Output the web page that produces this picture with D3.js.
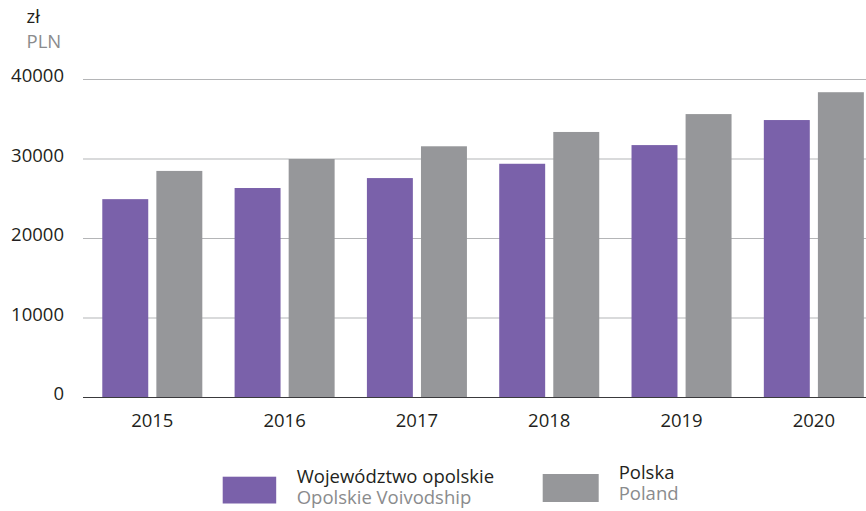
<!DOCTYPE html>
<html>
<head>
<meta charset="utf-8">
<script src="https://cdn.jsdelivr.net/npm/d3@7"></script>
<style>
  body { margin: 0; background: #fff; }
  text { font-family: "Open Sans", sans-serif; }
</style>
</head>
<body>
<div id="chart"></div>
<script>
// data
var years = ["2015", "2016", "2017", "2018", "2019", "2020"];
var opolskie = [24950, 26350, 27600, 29400, 31750, 34900];
var polska = [28500, 30000, 31600, 33400, 35650, 38400];
var yTicks = [0, 10000, 20000, 30000, 40000];
var seriesKeys = ["opolskie", "polska"];
var seriesPl = ["Województwo opolskie", "Polska"];
var seriesEn = ["Opolskie Voivodship", "Poland"];
var colours = ["#7a61aa", "#96979a"];

var width = 866, height = 511;
var plotLeft = 83, plotRight = 866, plotTop = 79.5, plotBottom = 397.5;

var svg = d3.select("#chart").append("svg")
    .attr("width", width)
    .attr("height", height);

var x = d3.scaleBand()
    .domain(years)
    .range([plotLeft, plotRight])
    .paddingInner(0.244)
    .paddingOuter(0.081)
    .align(0.9);

var xs = d3.scaleBand()
    .domain(seriesKeys)
    .range([0, x.bandwidth()])
    .paddingInner(0.15);

var y = d3.scaleLinear()
    .domain([0, 40000])
    .range([plotBottom, plotTop]);

var rows = years.map(function (yr, i) {
    return { year: yr, opolskie: opolskie[i], polska: polska[i] };
});

// gridlines
svg.selectAll(".grid")
    .data(yTicks.filter(function (t) { return t > 0; }))
    .enter().append("line")
    .attr("class", "grid")
    .attr("x1", plotLeft).attr("x2", plotRight)
    .attr("y1", function (d) { return y(d); })
    .attr("y2", function (d) { return y(d); })
    .attr("stroke", "#b4b5b7")
    .attr("stroke-width", 1.2);

// y labels
svg.selectAll(".ylab")
    .data(yTicks)
    .enter().append("text")
    .attr("class", "ylab")
    .attr("x", 64)
    .attr("y", function (d) { return y(d) + 2.5; })
    .attr("text-anchor", "end")
    .attr("font-size", "18.5px")
    .attr("fill", "#231f20")
    .text(function (d) { return d; });

// bars
var groups = svg.selectAll(".year")
    .data(rows)
    .enter().append("g")
    .attr("class", "year")
    .attr("transform", function (d) { return "translate(" + x(d.year) + ",0)"; });

groups.selectAll("rect")
    .data(function (d) {
        return seriesKeys.map(function (k, i) { return { key: k, value: d[k], c: colours[i] }; });
    })
    .enter().append("rect")
    .attr("x", function (d) { return xs(d.key); })
    .attr("y", function (d) { return y(d.value); })
    .attr("width", xs.bandwidth())
    .attr("height", function (d) { return y(0) - y(d.value); })
    .attr("fill", function (d) { return d.c; });

// baseline
svg.append("line")
    .attr("x1", plotLeft).attr("x2", plotRight)
    .attr("y1", y(0)).attr("y2", y(0))
    .attr("stroke", "#3a3a3c")
    .attr("stroke-width", 1.2);

// x labels
svg.selectAll(".xlab")
    .data(years)
    .enter().append("text")
    .attr("class", "xlab")
    .attr("x", function (d) { return x(d) + x.bandwidth() / 2; })
    .attr("y", 426.7)
    .attr("text-anchor", "middle")
    .attr("font-size", "18.5px")
    .attr("fill", "#231f20")
    .text(function (d) { return d; });

// unit
svg.append("text").attr("x", 26.5).attr("y", 23.3)
    .attr("font-size", "18.5px").attr("fill", "#231f20").text("zł");
svg.append("text").attr("x", 26.5).attr("y", 48.3)
    .attr("font-size", "18.5px").attr("fill", "#8a8b8d").text("PLN");

// legend
var legendPos = [
    { sx: 222.7, sy: 476.7, sw: 53.5, sh: 26.8, tx: 296.7, ty: 483 },
    { sx: 542.7, sy: 474, sw: 56, sh: 28, tx: 618.7, ty: 479 }
];
var legend = svg.selectAll(".legend")
    .data(seriesKeys)
    .enter().append("g")
    .attr("class", "legend");

legend.append("rect")
    .attr("x", function (d, i) { return legendPos[i].sx; })
    .attr("y", function (d, i) { return legendPos[i].sy; })
    .attr("width", function (d, i) { return legendPos[i].sw; })
    .attr("height", function (d, i) { return legendPos[i].sh; })
    .attr("fill", function (d, i) { return colours[i]; });

legend.append("text")
    .attr("x", function (d, i) { return legendPos[i].tx; })
    .attr("y", function (d, i) { return legendPos[i].ty; })
    .attr("font-size", "18.5px")
    .attr("fill", "#231f20")
    .text(function (d, i) { return seriesPl[i]; });

legend.append("text")
    .attr("x", function (d, i) { return legendPos[i].tx; })
    .attr("y", function (d, i) { return legendPos[i].ty + 20.5; })
    .attr("font-size", "18.5px")
    .attr("fill", "#8a8b8d")
    .text(function (d, i) { return seriesEn[i]; });
</script>
</body>
</html>
